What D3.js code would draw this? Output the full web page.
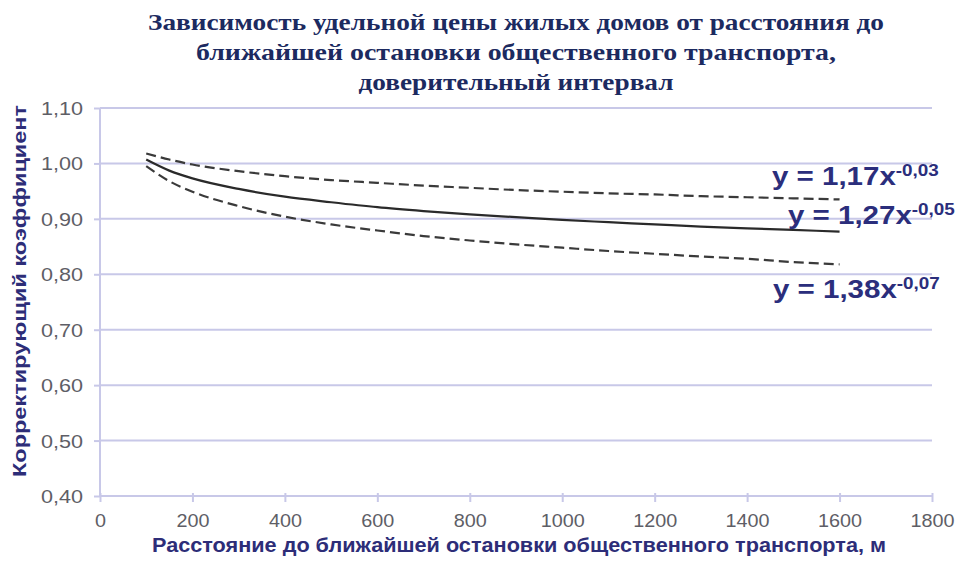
<!DOCTYPE html>
<html><head><meta charset="utf-8">
<script src="https://cdn.jsdelivr.net/npm/d3@7"></script>
<style>body{margin:0;background:#fff}svg{display:block}</style>
</head><body>
<svg id="c" width="961" height="570"></svg>
<script>
const titleLines = ["Зависимость удельной цены жилых домов от расстояния до","ближайшей остановки общественного транспорта,","доверительный интервал"];
const xTitle = "Расстояние до ближайшей остановки общественного транспорта, м";
const yTitle = "Корректирующий  коэффициент";
const xTicks = [0,200,400,600,800,1000,1200,1400,1600,1800];
const yTicks = [0.4,0.5,0.6,0.7,0.8,0.9,1.0,1.1];
const distance = [100,150,200,300,400,500,600,700,800,900,1000,1100,1200,1300,1400,1500,1600];
const upper = [1.018,1.007,0.998,0.986,0.977,0.970,0.965,0.960,0.956,0.952,0.949,0.946,0.944,0.941,0.939,0.937,0.935];
const mid   = [1.007,0.987,0.973,0.954,0.940,0.930,0.921,0.914,0.908,0.903,0.898,0.894,0.890,0.886,0.883,0.880,0.877];
const lower = [0.995,0.968,0.949,0.923,0.904,0.890,0.879,0.869,0.861,0.854,0.848,0.842,0.837,0.832,0.828,0.822,0.818];
const eqs = [{c:"1,17",p:"-0,03"},{c:"1,27",p:"-0,05"},{c:"1,38",p:"-0,07"}];

const svg = d3.select("#c");
const x = d3.scaleLinear().domain([0,1800]).range([100,932]);
const y = d3.scaleLinear().domain([0.4,1.1]).range([496,108]);
const grid = "#c8c8e8";
const sans = "Liberation Sans, Arial, sans-serif";
const fmt = d => d.toFixed(2).replace(".", ",");

// gridlines
svg.append("g").selectAll("line").data(yTicks.slice(1)).join("line")
  .attr("x1", x(0)).attr("x2", x(1800)).attr("y1", d=>y(d)).attr("y2", d=>y(d))
  .attr("stroke", grid).attr("stroke-width", 2);

// y axis
const ya = svg.append("g").attr("transform", `translate(${x(0)},0)`)
  .call(d3.axisLeft(y).tickValues(yTicks).tickFormat(fmt).tickSize(6));
ya.select(".domain").attr("stroke", grid).attr("stroke-width", 2).attr("d", `M0,${y(0.4)}V${y(1.1)}`);
ya.selectAll(".tick line").attr("stroke", grid).attr("stroke-width", 2);
ya.selectAll("text").attr("font-family",sans).attr("font-size",18).attr("fill","#5e5e66")
  .attr("x", -17/1.2).attr("dy","0.36em").attr("transform","scale(1.2,1)");

// x axis
const xa = svg.append("g").attr("transform", `translate(0,${y(0.4)})`)
  .call(d3.axisBottom(x).tickValues(xTicks).tickSize(6).tickFormat(d3.format("d")));
xa.select(".domain").attr("stroke", grid).attr("stroke-width", 2).attr("d", `M${x(0)},0H${x(1800)}`);
xa.selectAll(".tick line").attr("stroke", grid).attr("stroke-width", 2).attr("y1",-3);
xa.selectAll("text").attr("font-family",sans).attr("font-size",18).attr("fill","#5e5e66")
  .attr("y", 31).attr("dy", 0).attr("transform","scale(1.1,1)");

// curves
const line = d3.line().x((d,i)=>x(distance[i])).y(d=>y(d)).curve(d3.curveMonotoneX);
svg.append("path").attr("d", line(upper)).attr("fill","none").attr("stroke","#3a3a3a").attr("stroke-width",2.2).attr("stroke-dasharray","10,5");
svg.append("path").attr("d", line(lower)).attr("fill","none").attr("stroke","#3a3a3a").attr("stroke-width",2.2).attr("stroke-dasharray","10,5");
svg.append("path").attr("d", line(mid)).attr("fill","none").attr("stroke","#2a2a2a").attr("stroke-width",2.2);

// equations
const eqPos = [{x:772,y:185},{x:788,y:224},{x:773,y:298}];
eqs.forEach((e,i)=>{
  const t = svg.append("text").attr("transform",`translate(${eqPos[i].x},${eqPos[i].y}) scale(1.18,1)`)
    .attr("font-family",sans).attr("font-weight","bold")
    .attr("font-size",25).attr("fill","#2b2e7c");
  t.append("tspan").text(`y = ${e.c}x`);
  t.append("tspan").attr("dy",-9).attr("font-size",16).text(e.p);
});

// title
svg.append("g").selectAll("text").data(titleLines).join("text")
  .attr("x",516).attr("y",(d,i)=>30+i*30).attr("text-anchor","middle")
  .attr("font-family","Liberation Serif, Times New Roman, serif").attr("font-weight","bold")
  .attr("font-size",24).attr("fill","#1c2a60")
  .attr("textLength",(d,i)=>[736,640,315][i]).attr("lengthAdjust","spacingAndGlyphs")
  .text(d=>d);

// axis titles
svg.append("text").attr("x",519).attr("y",552).attr("text-anchor","middle")
  .attr("font-family",sans).attr("font-weight","bold")
  .attr("font-size",20).attr("fill","#2d2d78")
  .attr("textLength",734).attr("lengthAdjust","spacingAndGlyphs").text(xTitle);
svg.append("text").attr("transform","translate(26,291) rotate(-90)").attr("text-anchor","middle")
  .attr("font-family",sans).attr("font-weight","bold")
  .attr("font-size",19).attr("fill","#2d2d78")
  .attr("textLength",372).attr("lengthAdjust","spacingAndGlyphs").text(yTitle);
</script>
</body></html>
